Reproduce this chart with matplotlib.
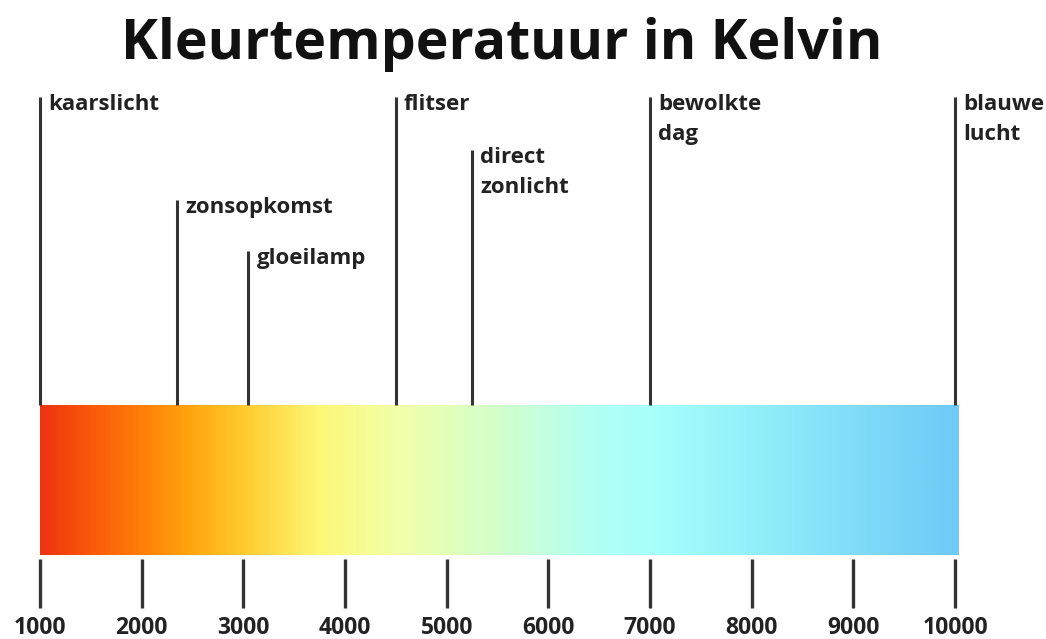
import numpy as np
import matplotlib
matplotlib.use("Agg")
import matplotlib.pyplot as plt
from matplotlib.colors import LinearSegmentedColormap

# kleurtemperatuur schaal
ticks = [1000, 2000, 3000, 4000, 5000, 6000, 7000, 8000, 9000, 10000]
labels = ["kaarslicht", "zonsopkomst", "gloeilamp", "flitser",
          "direct\nzonlicht", "bewolkte\ndag", "blauwe\nlucht"]
kelvin = [1000, 2350, 3050, 4500, 5250, 7000, 10000]
line_top = [97, 200, 251, 97, 150, 97, 97]   # pixel rows where each marker starts

stop_k = [1000, 1500, 2000, 2500, 3000, 3750, 4500, 5500, 6500, 7000, 8000, 9000, 10000]
stop_c = ["#ee3410", "#fa5a0a", "#ff8008", "#ffa810", "#ffcc30", "#fdf978", "#f2ffaa",
          "#d2ffcc", "#b0fff6", "#a8fffc", "#92f0fa", "#80dcf8", "#70caf8"]

W, H = 1046, 639
fig = plt.figure(figsize=(W / 100, H / 100), dpi=100)
ax = fig.add_axes([0, 0, 1, 1])
px = 915 / 9000.0
ax.set_xlim(1000 - 40 / px, 1000 + (W - 40) / px)
ax.set_ylim(H, 0)
ax.axis("off")

cmap = LinearSegmentedColormap.from_list(
    "kelvin", [((k - 1000) / 9000.0, c) for k, c in zip(stop_k, stop_c)])
grad = np.linspace(0, 1, 600).reshape(1, -1)
ax.imshow(grad, cmap=cmap, aspect="auto", extent=[1000, 10030, 555, 405],
          interpolation="bilinear", zorder=1)

dark = "#333333"
for t in ticks:
    ax.plot([t, t], [559, 608], color=dark, lw=2.4, solid_capstyle="butt")
    ax.text(t, 628, str(t), ha="center", va="center", fontsize=16.5,
            fontweight="bold", family="Open Sans", color="#222222")

for k, top, lab in zip(kelvin, line_top, labels):
    ax.plot([k, k], [top, 405], color=dark, lw=2.2, solid_capstyle="butt")
    ax.text(k + 8 / px, top - 3, lab, ha="left", va="top", fontsize=16,
            fontweight="bold", family="Open Sans", color="#222222",
            linespacing=1.55)

fig.text(0.48, 1 - 44 / H, "Kleurtemperatuur in Kelvin", ha="center", va="center",
         fontsize=40, fontweight="bold", family="Open Sans", color="#111111")

fig.savefig("out.png", dpi=100, facecolor="white")
